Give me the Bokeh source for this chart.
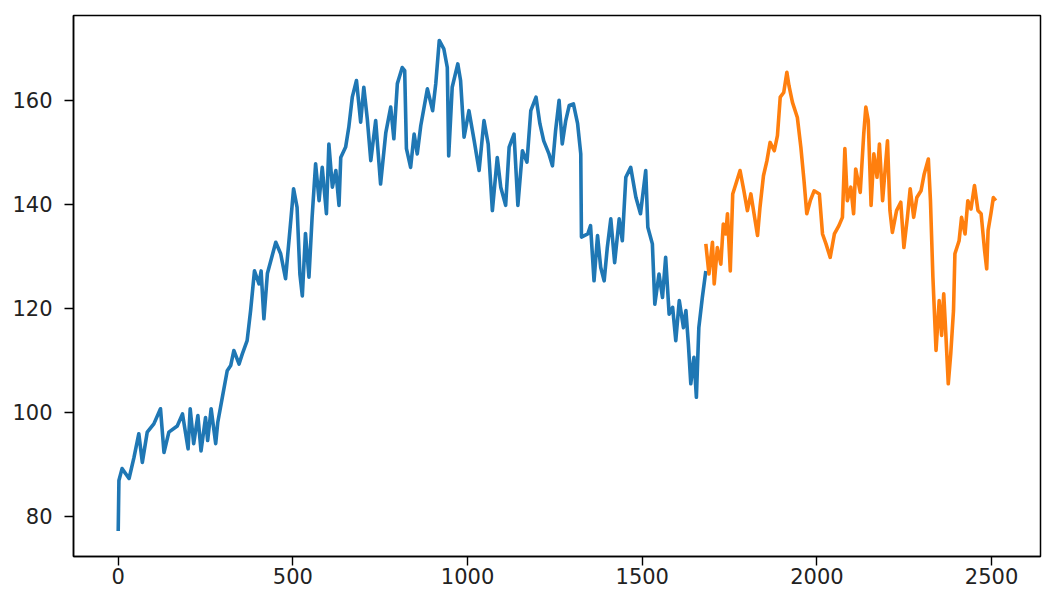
from bokeh.plotting import figure
from bokeh.models import FixedTicker, Range1d
from bokeh.embed import file_html
from bokeh.resources import INLINE

# Series 1 (blue): index and value
blue_x = [0, 2, 11, 31, 45, 59, 69, 83, 102, 121, 131, 145, 169, 184, 200, 206, 216, 228, 237, 250,
          256, 266, 279, 285, 298, 312, 322, 331, 346, 355, 369, 379, 390, 403, 409, 417, 427, 451, 465, 479,
          494, 502, 512, 520, 527, 536, 546, 555, 565, 575, 584, 596, 603, 613, 623, 632, 637, 651, 660, 670,
          682, 694, 703, 713, 723, 737, 751, 766, 780, 789, 799, 813, 820, 825, 837, 847, 856, 866, 885, 900,
          909, 919, 932, 942, 946, 956, 972, 980, 990, 1004, 1019, 1033, 1047, 1059, 1071, 1085, 1095, 1109, 1119, 1133,
          1144, 1157, 1170, 1181, 1196, 1207, 1218, 1233, 1243, 1252, 1262, 1271, 1281, 1291, 1303, 1315, 1324, 1326, 1344, 1352,
          1362, 1372, 1381, 1391, 1400, 1410, 1421, 1434, 1443, 1453, 1467, 1482, 1495, 1510, 1516, 1529, 1536, 1548, 1558, 1567,
          1577, 1587, 1596, 1606, 1618, 1625, 1632, 1639, 1648, 1655, 1662, 1672, 1682]
blue_y = [77.2, 86.9, 89.2, 87.3, 91.3, 95.9, 90.4, 96.2, 97.8, 100.7, 92.3, 96.2, 97.4, 99.7, 93.0, 100.7, 94.0, 99.4, 92.6, 99.0,
          94.6, 100.7, 94.0, 98.1, 102.9, 108.0, 109.0, 111.9, 109.3, 111.2, 113.8, 119.6, 127.2, 124.7, 127.2, 118.0, 126.7, 132.7, 130.5, 125.7,
          136.9, 143.0, 139.4, 126.6, 122.4, 134.4, 126.0, 137.5, 147.8, 140.7, 147.1, 138.2, 151.6, 143.3, 146.5, 139.8, 149.0, 151.0, 154.8, 160.6,
          163.8, 155.8, 162.5, 156.4, 148.4, 156.1, 143.9, 153.8, 158.7, 152.6, 163.2, 166.3, 165.7, 150.7, 147.1, 153.5, 149.7, 155.1, 162.2, 158.0,
          163.2, 171.5, 169.9, 166.3, 149.3, 162.5, 167.0, 163.8, 152.9, 158.0, 152.2, 146.5, 156.1, 151.6, 138.8, 149.0, 143.3, 139.8, 151.0, 153.5,
          139.8, 150.3, 148.1, 158.0, 160.6, 155.5, 152.2, 149.7, 147.4, 154.2, 160.0, 151.6, 156.1, 159.0, 159.3, 155.5, 149.7, 133.7, 134.3, 135.9,
          125.3, 134.0, 127.9, 125.3, 131.7, 137.2, 128.8, 137.2, 133.0, 145.2, 147.1, 141.3, 138.2, 146.5, 135.6, 132.4, 120.8, 126.6, 122.1, 129.8,
          118.9, 120.2, 113.8, 121.5, 116.3, 119.6, 113.2, 105.5, 110.6, 102.9, 116.3, 122.1, 127.2]

# Series 2 (orange): index and value
orange_x = [1682, 1691, 1701, 1706, 1715, 1725, 1732, 1739, 1744, 1752, 1759, 1768, 1780, 1791, 1801, 1811, 1820, 1830, 1837, 1847,
            1857, 1866, 1878, 1887, 1895, 1905, 1914, 1920, 1930, 1944, 1954, 1963, 1971, 1981, 1992, 2007, 2016, 2026, 2038, 2050,
            2063, 2073, 2080, 2087, 2097, 2105, 2111, 2124, 2134, 2140, 2147, 2155, 2163, 2172, 2179, 2188, 2202, 2209, 2216, 2228,
            2240, 2249, 2259, 2267, 2277, 2286, 2298, 2307, 2319, 2325, 2332, 2341, 2350, 2357, 2363, 2369, 2376, 2383, 2391, 2395,
            2407, 2414, 2424, 2432, 2441, 2451, 2461, 2470, 2480, 2486, 2490, 2498, 2505, 2512]
orange_y = [132.4, 126.6, 132.7, 124.7, 131.7, 128.5, 136.2, 134.3, 138.2, 127.2, 142.0, 143.9, 146.5, 142.6, 138.8, 142.0, 138.2, 134.0, 139.4, 145.5,
            148.4, 151.9, 150.3, 153.2, 160.6, 161.5, 165.4, 162.8, 159.6, 156.7, 151.0, 144.6, 138.2, 140.7, 142.6, 142.0, 134.3, 132.4, 129.8, 134.3,
            135.9, 137.5, 150.7, 140.7, 143.3, 138.2, 146.8, 142.3, 153.5, 158.7, 156.1, 139.8, 149.7, 145.2, 151.6, 140.7, 152.2, 138.8, 134.6, 138.8,
            140.4, 131.7, 137.5, 143.0, 137.5, 141.3, 142.6, 145.8, 148.7, 140.7, 126.0, 111.9, 121.5, 114.8, 122.8, 115.1, 105.5, 111.2, 119.6, 130.5,
            133.0, 137.5, 134.3, 140.7, 139.1, 143.6, 138.8, 138.2, 131.1, 127.6, 135.0, 138.2, 141.3, 140.7]

x_ticks = [0, 500, 1000, 1500, 2000, 2500]
y_ticks = [80, 100, 120, 140, 160]

p = figure(width=1044, height=592, output_backend="svg", toolbar_location=None,
           x_range=Range1d(-128, 2640), y_range=Range1d(72.3, 176.3),
           min_border_left=73, min_border_right=4, min_border_top=15, min_border_bottom=36)

p.line(blue_x, blue_y, color="#1f77b4", line_width=3.6, line_join="round")
p.line(orange_x, orange_y, color="#ff7f0e", line_width=3.6, line_join="round")

p.xgrid.visible = False
p.ygrid.visible = False
p.outline_line_color = "black"
p.outline_line_width = 1.5
p.outline_line_alpha = 1.0
p.background_fill_color = "white"
p.border_fill_color = "white"

p.xaxis.ticker = FixedTicker(ticks=x_ticks)
p.yaxis.ticker = FixedTicker(ticks=y_ticks)
for ax in (p.xaxis[0], p.yaxis[0]):
    ax.axis_line_color = "black"
    ax.axis_line_width = 1.5
    ax.major_tick_line_color = "black"
    ax.major_tick_line_width = 1.4
    ax.major_tick_in = 0
    ax.major_tick_out = 9
    ax.minor_tick_line_color = None
    ax.major_label_text_font = "DejaVu Sans"
    ax.major_label_text_font_size = "21px"
    ax.major_label_text_color = "#222222"
p.xaxis[0].major_label_standoff = 2
p.yaxis[0].major_label_standoff = 12

open("out.html", "w").write(file_html(p, INLINE))
